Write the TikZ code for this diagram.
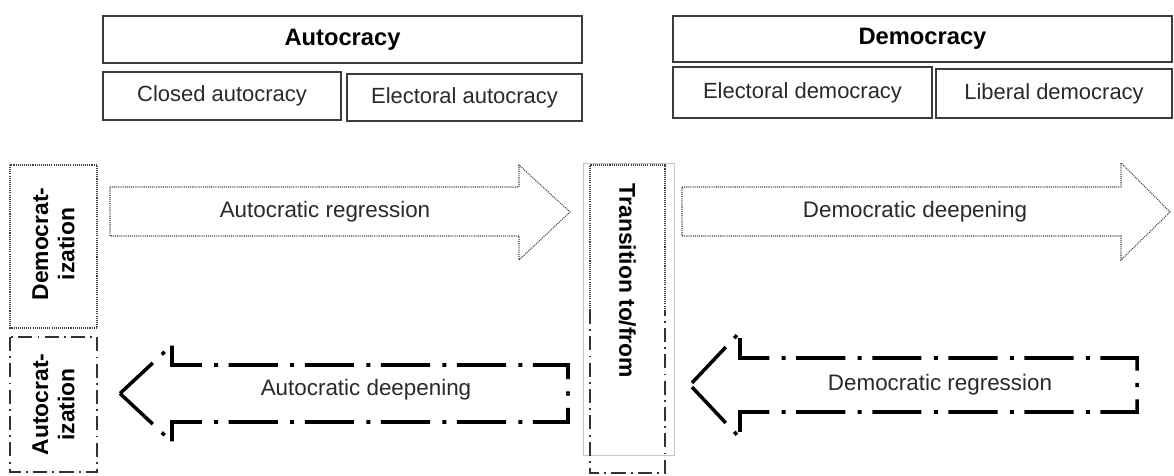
\documentclass[tikz,border=0pt]{standalone}
\usepackage{fontspec}
\setmainfont{Liberation Sans}
\usetikzlibrary{positioning}

\definecolor{boxline}{HTML}{3C3C3C}
\definecolor{inkgray}{HTML}{2A2A2A}

\tikzset{
regime/.style={draw=boxline, line width=0.8pt, inner sep=0pt, text=black,
  font=\fontsize{13.5}{16}\selectfont\bfseries},
subtype/.style={draw=boxline, line width=0.8pt, inner sep=0pt, text=inkgray,
  font=\fontsize{12.5}{15}\selectfont},
fine dots/.style={draw=black!75, line width=0.6pt, dash pattern=on 0.6pt off 0.6pt},
fine dashdot/.style={draw=black!80, line width=0.6pt, dash pattern=on 8pt off 3pt on 1pt off 3pt},
heavy dashdot/.style={draw=black, line width=2pt, dash pattern=on 28pt off 6pt on 2.3pt off 7pt,
  dash phase=35.15pt},
arrowlabel/.style={font=\fontsize{12.75}{15}\selectfont, text=inkgray},
sidelabel/.style={font=\fontsize{13}{15}\selectfont\bfseries, align=center, text=black}}

\begin{document}
\begin{tikzpicture}[x=0.02cm, y=-0.02cm]
  \useasboundingbox[fill=white] (0,0) rectangle (1174,476);

  % regime types
  \node[regime, minimum width=9.58cm, minimum height=0.94cm] (autocracy) at (342.5,39.5) {Autocracy};
  \node[subtype, minimum width=4.76cm, minimum height=0.96cm] (closedaut) at (222,96) {Closed autocracy};
  \node[subtype, minimum width=4.70cm, minimum height=0.94cm] (elecaut) at (464.5,97.5) {Electoral autocracy};
  \node[regime, minimum width=9.98cm, minimum height=0.92cm] (democracy) at (922.5,39) {Democracy};
  \node[subtype, minimum width=5.18cm, minimum height=1.02cm] (elecdem) at (802.5,92.5) {Electoral democracy};
  \node[subtype, minimum width=4.72cm, minimum height=0.98cm] (libdem) at (1054,93.5) {Liberal democracy};

  % direction of change
  \draw[fine dots] (10,165) rectangle (97,328);
  \node[sidelabel, rotate=90] (democratization) at (53.5,244) {Democrat-\\ization};
  \draw[fine dashdot] (10,337) rectangle (97,472);
  \node[sidelabel, rotate=90] (autocratization) at (53.5,404.5) {Autocrat-\\ization};

  % transition column
  \draw[draw=black!22, line width=0.5pt] (583,163) rectangle (674,455);
  \draw[fine dots] (590,310) -- (590,165) -- (665,165) -- (665,310);
  \draw[fine dashdot] (590,310) -- (590,473) -- (665,473) -- (665,310);
  \node[sidelabel, rotate=-90] (transition) at (627.5,281) {Transition to/from};

  % arrows
  \draw[fine dots] (110,187) -- (519,187) -- (519,165) -- (570,212) -- (519,260) -- (519,236) -- (110,236) -- cycle;
  \node[arrowlabel] (autreg) at (325,212) {Autocratic regression};
  \draw[fine dots] (682,187) -- (1121,187) -- (1121,163) -- (1170,212) -- (1121,260) -- (1121,236) -- (682,236) -- cycle;
  \node[arrowlabel] (demdeep) at (915,212) {Democratic deepening};

  % each heavy arrow in two halves, so the dashes come out symmetric
  \draw[heavy dashdot] (568,393.5) -- (568,365) -- (172,365) -- (172,345) -- (120,393.5);
  \draw[heavy dashdot] (568,393.5) -- (568,422) -- (172,422) -- (172,442) -- (120,393.5);
  \node[arrowlabel] (autdeep) at (366,390) {Autocratic deepening};
  \draw[heavy dashdot] (1137,385) -- (1137,358) -- (740,358) -- (740,332) -- (690,385);
  \draw[heavy dashdot] (1137,385) -- (1137,412) -- (740,412) -- (740,438) -- (690,385);
  \node[arrowlabel] (demreg) at (940,385) {Democratic regression};
\end{tikzpicture}
\end{document}
